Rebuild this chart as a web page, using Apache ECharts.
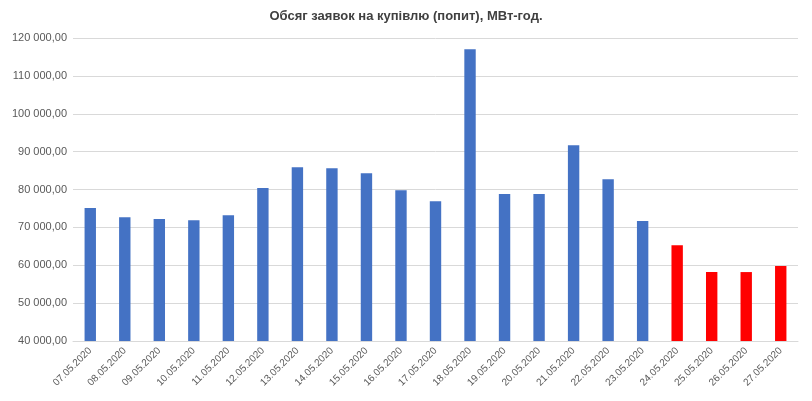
<!DOCTYPE html>
<html><head><meta charset="utf-8">
<script src="https://cdn.jsdelivr.net/npm/echarts@6/dist/echarts.min.js"></script>
<style>body{margin:0}#c{width:812px;height:401px}</style></head>
<body><div id="c"></div>
<script>
const categories=['07.05.2020','08.05.2020','09.05.2020','10.05.2020','11.05.2020','12.05.2020','13.05.2020','14.05.2020','15.05.2020','16.05.2020','17.05.2020','18.05.2020','19.05.2020','20.05.2020','21.05.2020','22.05.2020','23.05.2020','24.05.2020','25.05.2020','26.05.2020','27.05.2020'];
const values=[75100,72700,72200,71900,73200,80400,85900,85600,84300,79800,76900,117000,78800,78800,91700,82700,71700,65300,58200,58200,59800];
const redFrom=17;
function fmt(v){return String(v).replace(/\B(?=(\d{3})+(?!\d))/g,' ')+',00';}
const chart=echarts.init(document.getElementById('c'));
chart.setOption({
  animation:false,
  title:{text:'Обсяг заявок на купівлю (попит), МВт-год.',left:'center',top:5,textStyle:{fontSize:13,fontWeight:'bold',color:'#404040',fontFamily:'Liberation Sans'}},
  grid:{left:73,right:14,top:38,bottom:60},
  xAxis:{type:'category',data:categories,axisTick:{show:false},axisLine:{lineStyle:{color:'#d9d9d9'}},
    axisLabel:{rotate:45,fontSize:10,color:'#595959',interval:0}},
  yAxis:{type:'value',min:40000,max:120000,interval:10000,axisLine:{show:false},axisTick:{show:false},
    splitLine:{lineStyle:{color:'#d9d9d9'}},axisLabel:{formatter:fmt,fontSize:11,color:'#595959',margin:6}},
  series:[{type:'bar',barWidth:'33%',data:values.map((v,i)=>({value:v,itemStyle:{color:i>=redFrom?'#ff0000':'#4472c4'}}))}]
});
</script></body></html>
